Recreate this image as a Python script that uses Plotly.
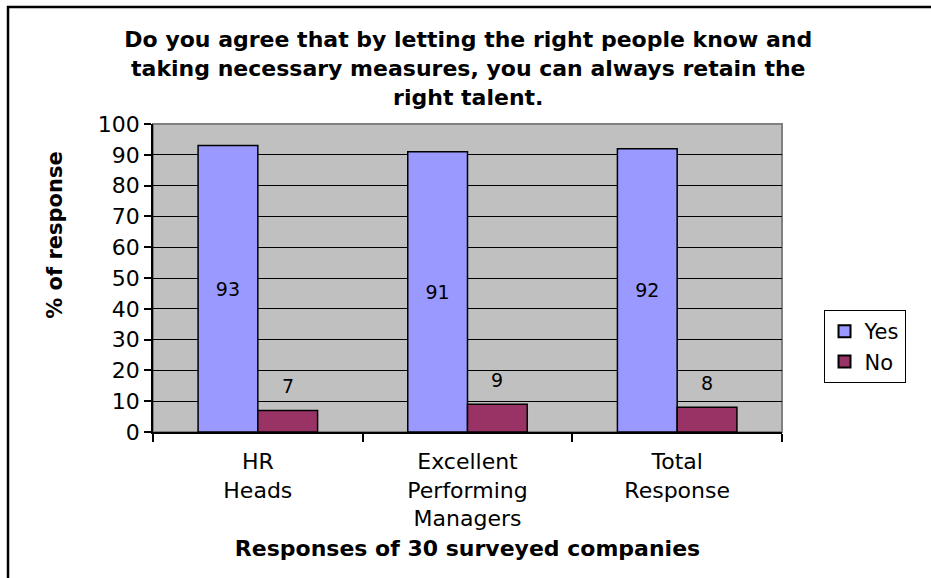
import plotly.graph_objects as go

# Survey data
categories = ["HR<br>Heads", "Excellent<br>Performing<br>Managers", "Total<br>Response"]
yes_values = [93, 91, 92]
no_values = [7, 9, 8]
y_ticks = [0, 10, 20, 30, 40, 50, 60, 70, 80, 90, 100]

title_text = ("Do you agree that by letting the right people know and<br>"
              "taking necessary measures, you can always retain the<br>"
              "right talent.")
y_title = "% of response"
x_title = "Responses of 30 surveyed companies"

FONT = "DejaVu Sans, Liberation Sans, Arial, sans-serif"
BAR_GAP = 0.43

fig = go.Figure()
fig.add_trace(go.Bar(
    name="Yes", x=categories, y=yes_values,
    marker=dict(color="#9999FF", line=dict(color="black", width=1.5)),
    text=[str(v) for v in yes_values], textposition="inside",
    insidetextanchor="middle", textangle=0,
    textfont=dict(family=FONT, size=19, color="black"),
    constraintext="none",
))
fig.add_trace(go.Bar(
    name="No", x=categories, y=no_values,
    marker=dict(color="#993366", line=dict(color="black", width=1.5)),
))

# value labels above the "No" bars (second bar of each group)
half_group = (1 - BAR_GAP) / 4
annotations = [
    dict(x=i + half_group, y=v, xref="x", yref="y", text=str(v),
         showarrow=False, yanchor="bottom", yshift=11,
         font=dict(family=FONT, size=19, color="black"))
    for i, v in enumerate(no_values)
]
# vertical axis title, set a little above the plot's mid-height
annotations.append(dict(
    x=-0.156, y=0.64, xref="paper", yref="paper", text="<b>" + y_title + "</b>",
    textangle=-90, showarrow=False, xanchor="center", yanchor="middle",
    font=dict(family=FONT, size=21, color="black"),
))

fig.update_layout(
    width=931, height=578,
    margin=dict(l=153, r=149, t=124, b=146),
    paper_bgcolor="white", plot_bgcolor="#C0C0C0",
    barmode="group", bargap=BAR_GAP, bargroupgap=0,
    font=dict(family=FONT, color="black"),
    title=dict(text="<b>" + title_text + "</b>", x=0.503, xanchor="center",
               y=0.918, yanchor="top",
               font=dict(family=FONT, size=22, color="black")),
    showlegend=True,
    legend=dict(x=1.066, y=0.396, xanchor="left", yanchor="top",
                bgcolor="white", bordercolor="black", borderwidth=1,
                font=dict(family=FONT, size=21, color="black"),
                itemsizing="constant", tracegroupgap=0),
    annotations=annotations,
    xaxis=dict(
        title=dict(text="<b>" + x_title + "</b>",
                   font=dict(family=FONT, size=22, color="black"), standoff=10),
        tickfont=dict(family=FONT, size=22, color="black"),
        showline=True, linecolor="black", linewidth=1.5,
        ticks="outside", ticklen=8, tickcolor="black", tickwidth=1.5,
        ticklabelstandoff=9,
        tickson="boundaries", showgrid=False,
    ),
    yaxis=dict(
        range=[0, 100], tickvals=y_ticks,
        tickfont=dict(family=FONT, size=22, color="black"),
        showline=True, linecolor="black", linewidth=1.5,
        ticks="outside", ticklen=7, tickcolor="black", tickwidth=1.5,
        ticklabelstandoff=0,
        showgrid=True, gridcolor="black", gridwidth=1,
        zeroline=False,
    ),
    shapes=[
        # plot area frame
        dict(type="rect", xref="paper", yref="paper", x0=0, x1=1, y0=0, y1=1,
             line=dict(color="#808080", width=2), layer="below"),
        # outer chart frame
        dict(type="rect", xref="paper", yref="paper",
             x0=-0.2305, x1=1.3, y0=-0.6, y1=1.3799,
             line=dict(color="black", width=2.5)),
    ],
)

fig.write_html("out.html")
